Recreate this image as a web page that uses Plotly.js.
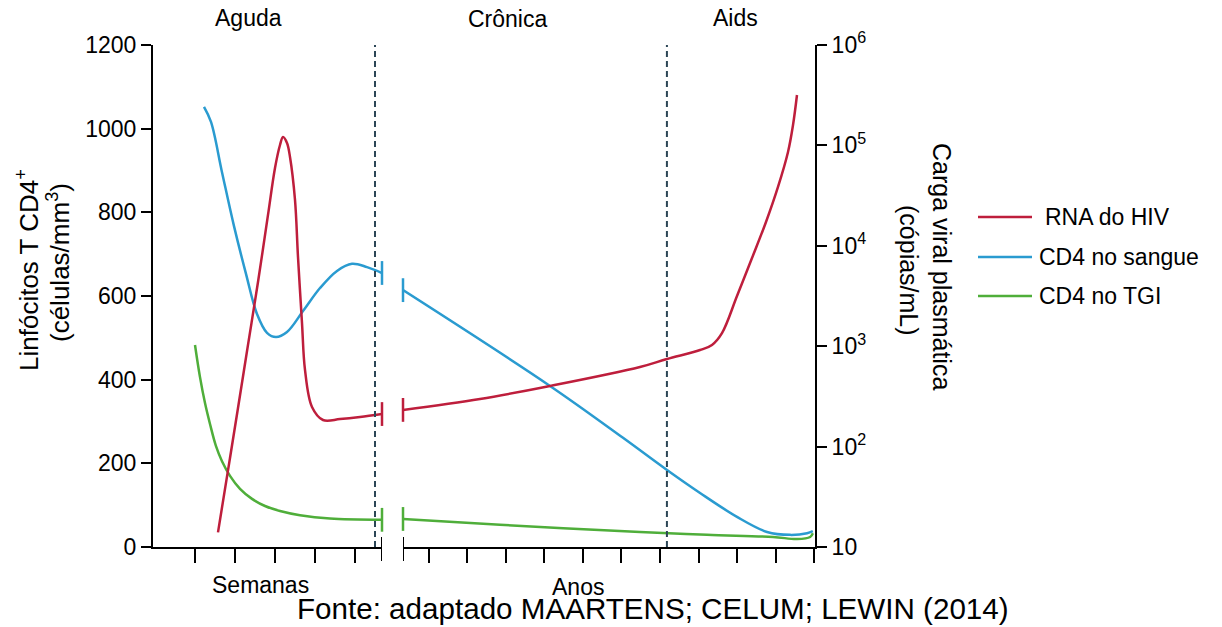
<!DOCTYPE html>
<html>
<head>
<meta charset="utf-8">
<script src="https://cdn.plot.ly/plotly-3.0.1.min.js"></script>
<style>html,body{margin:0;padding:0;background:#fff;}#chart{width:1222px;height:627px;}</style>
</head>
<body>
<div id="chart"></div>
<script>
// ---- data ----
const seriesNames = ["RNA do HIV", "CD4 no sangue", "CD4 no TGI"];
const seriesColors = ["#be1e3c", "#2a9bd0", "#4fae3a"];
const phaseLabels = ["Aguda", "Crônica", "Aids"];
const axisLabels = ["Semanas", "Anos"];
const sourceText = "Fonte: adaptado MAARTENS; CELUM; LEWIN (2014)";

// Acute phase (weeks)
const weeksHiv = [1.575, 1.825, 2.075, 2.325, 2.575, 2.825, 3.0, 3.125, 3.2, 3.3, 3.375, 3.5, 3.575, 3.675, 3.75, 3.925, 4.2, 4.625, 5.125, 5.675];
const hivAcute = [14, 58, 242, 1030, 4360, 20300, 59600, 100900, 121300, 105700, 76600, 28600, 7730, 1700, 580, 248, 184, 188, 197, 211];
const weeksBlood = [1.225, 1.4, 1.675, 1.975, 2.275, 2.55, 2.8, 3.025, 3.3, 3.7, 4.125, 4.55, 4.925, 5.3, 5.675];
const bloodAcute = [1052, 1016, 896, 767, 653, 557, 512, 502, 514, 564, 619, 660, 677, 669, 655];
const weeksGut = [1.0, 1.125, 1.25, 1.375, 1.525, 1.675, 1.875, 2.125, 2.425, 2.75, 3.125, 3.625, 4.375, 5.675];
const gutAcute = [483, 406, 344, 294, 241, 205, 170, 139, 115, 98, 86, 76, 68, 65];

// Chronic / AIDS phase (years)
const yearsHiv = [0.325, 2.325, 4.143, 6.48, 7.182, 8.04, 8.35, 8.61, 9.0, 9.39, 9.753, 10.065, 10.325, 10.455, 10.558];
const hivChronic = [232, 298, 402, 621, 746, 916, 1030, 1350, 3160, 7550, 17260, 38550, 85900, 159600, 317700];
const yearsBlood = [0.325, 4.143, 6.039, 7.182, 8.04, 9.0, 9.78, 10.38, 10.82, 10.97];
const bloodChronic = [614, 385, 261, 184, 129, 72, 36, 29, 33, 38];
const yearsGut = [0.325, 2.844, 6.48, 8.22, 9.935, 10.56, 10.9, 10.97];
const gutChronic = [67, 53, 36, 29, 24, 19, 24, 33];

const weekTicks = [1, 2, 3, 4, 5];
const yearTicks = [1, 2, 3, 4, 5, 6, 7, 8, 9, 10, 11];
const leftTicks = [0, 200, 400, 600, 800, 1000, 1200];
const rightTicks = [10, 100, 1000, 10000, 100000, 1000000];
const rightTickText = ["10", "10<sup>2</sup>", "10<sup>3</sup>", "10<sup>4</sup>", "10<sup>5</sup>", "10<sup>6</sup>"];
const boundaryWeek = 5.5;   // Aguda | Crônica
const boundaryYear = 7.18;  // Crônica | Aids
const weekRange = [-0.05, 5.675];
const yearRange = [0.325, 11.026];

// ---- chart ----
const FONT = "Liberation Sans, Arial, sans-serif";
const LW = 2.5;
function line(x, y, xa, ya, i) {
  return {x: x, y: y, xaxis: xa, yaxis: ya, mode: "lines", type: "scatter",
    line: {color: seriesColors[i], width: LW, shape: "spline", smoothing: 1},
    showlegend: false, hoverinfo: "skip"};
}
function cap(x, y, xa, ya, i) {
  return {x: [x], y: [y], xaxis: xa, yaxis: ya, mode: "markers", type: "scatter",
    marker: {symbol: "line-ns", size: 17, line: {color: seriesColors[i], width: 2.5}},
    showlegend: false, hoverinfo: "skip", cliponaxis: false};
}
const last = a => a[a.length - 1];

const traces = [
  line(weeksGut, gutAcute, "x", "y", 2),
  line(yearsGut, gutChronic, "x2", "y", 2),
  line(weeksBlood, bloodAcute, "x", "y", 1),
  line(yearsBlood, bloodChronic, "x2", "y", 1),
  line(weeksHiv, hivAcute, "x", "y2", 0),
  line(yearsHiv, hivChronic, "x2", "y3", 0),
  cap(last(weeksGut), last(gutAcute), "x", "y", 2),
  cap(yearsGut[0], gutChronic[0], "x2", "y", 2),
  cap(last(weeksBlood), last(bloodAcute), "x", "y", 1),
  cap(yearsBlood[0], bloodChronic[0], "x2", "y", 1),
  cap(last(weeksHiv), last(hivAcute), "x", "y2", 0),
  cap(yearsHiv[0], hivChronic[0], "x2", "y3", 0)
];

const W = 662, H = 502, L = 153, T = 45;
const px = v => (v - L) / W;
const py = v => (T + H - v) / H;

const axBase = {showgrid: false, zeroline: false, showline: true, linecolor: "#000", linewidth: 2,
  ticks: "outside", tickcolor: "#000", tickwidth: 2, fixedrange: true};

const annotations = [];
function ann(text, x, y, size, extra) {
  annotations.push(Object.assign({text: text, xref: "paper", yref: "paper", x: px(x), y: py(y),
    xanchor: "center", yanchor: "middle", showarrow: false, font: {family: FONT, size: size, color: "#000"}}, extra || {}));
}
ann(phaseLabels[0], 248, 18, 23);
ann(phaseLabels[1], 507, 19, 23);
ann(phaseLabels[2], 735, 18, 23);
ann(axisLabels[0], 260, 585, 23);
ann(axisLabels[1], 578, 587, 23);
ann(sourceText, 653, 627, 29.6, {yanchor: "bottom"});
ann("Linfócitos T CD4<sup>+</sup>", 27, 270, 26, {textangle: -90});
ann("(células/mm<sup>3</sup>)", 58, 263, 26, {textangle: -90});
ann("Carga viral plasmática", 942, 267, 25, {textangle: 90});
ann("(cópias/mL)", 909, 270, 25, {textangle: 90});

const shapes = [
  {type: "line", xref: "x", yref: "paper", x0: boundaryWeek, x1: boundaryWeek, y0: 0, y1: 1,
    line: {color: "#2c4656", width: 2, dash: "6px,4px"}},
  {type: "line", xref: "x2", yref: "paper", x0: boundaryYear, x1: boundaryYear, y0: 0, y1: 1,
    line: {color: "#2c4656", width: 2, dash: "6px,4px"}},
  {type: "line", xref: "x", yref: "paper", x0: weekRange[1], x1: weekRange[1], y0: py(537), y1: py(561),
    line: {color: "#000", width: 2}},
  {type: "line", xref: "x2", yref: "paper", x0: yearRange[0], x1: yearRange[0], y0: py(537), y1: py(561),
    line: {color: "#000", width: 2}}
];
// manual legend
const legY = [217, 257, 296];
const legTextX = [1043, 1037, 1037];
seriesNames.forEach((n, i) => {
  shapes.push({type: "line", xref: "paper", yref: "paper", x0: px(978), x1: px(1032), y0: py(legY[i]), y1: py(legY[i]),
    line: {color: seriesColors[i], width: 2.5}});
  annotations.push({text: n, xref: "paper", yref: "paper", x: px(legTextX[i]), y: py(legY[i]),
    xanchor: "left", yanchor: "middle", showarrow: false, font: {family: FONT, size: 23, color: "#000"}});
});

const layout = {
  width: 1222, height: 627,
  margin: {l: L, r: 1222 - L - W, t: T, b: 627 - T - H, pad: 0},
  paper_bgcolor: "#fff", plot_bgcolor: "#fff",
  font: {family: FONT, size: 23, color: "#000"},
  showlegend: false,
  xaxis: Object.assign({}, axBase, {domain: [0, px(382)], range: weekRange, tickvals: weekTicks,
    showticklabels: false, ticklen: 14, anchor: "y"}),
  xaxis2: Object.assign({}, axBase, {domain: [px(403), 1], range: yearRange, tickvals: yearTicks,
    showticklabels: false, ticklen: 14, anchor: "y"}),
  yaxis: Object.assign({}, axBase, {range: [0, 1200], tickvals: leftTicks, ticklen: 10, anchor: "x",
    side: "left", tickfont: {family: FONT, size: 23}}),
  yaxis2: Object.assign({}, axBase, {type: "log", range: [1, 6], overlaying: "y", anchor: "x2", side: "right",
    tickvals: rightTicks, ticktext: rightTickText, ticklen: 10, tickfont: {family: FONT, size: 23}}),
  yaxis3: {type: "log", range: [1, 6], overlaying: "y", anchor: "x2", side: "right", visible: false, fixedrange: true},
  annotations: annotations,
  shapes: shapes
};

Plotly.newPlot("chart", traces, layout, {staticPlot: true, displayModeBar: false});
</script>
</body>
</html>
